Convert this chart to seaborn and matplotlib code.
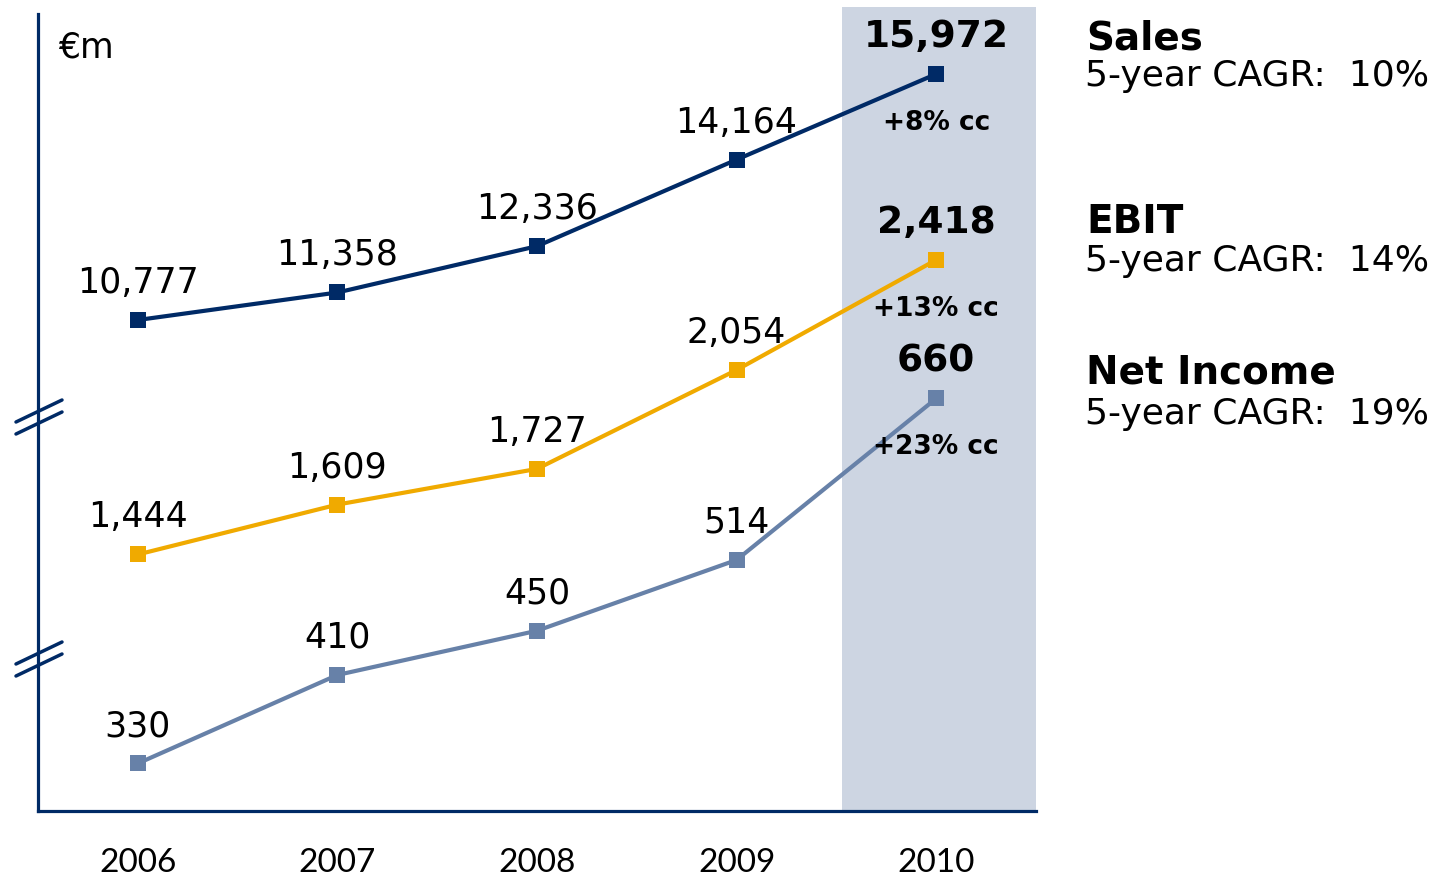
import numpy as np
import pandas as pd
import seaborn as sns
from matplotlib import pyplot as plt
from matplotlib.lines import Line2D

years = [2006, 2007, 2008, 2009, 2010]
sales = [10777, 11358, 12336, 14164, 15972]
ebit = [1444, 1609, 1727, 2054, 2418]
net_income = [330, 410, 450, 514, 660]

series_names = ["Sales", "EBIT", "Net Income"]
cagr = ["10%", "14%", "19%"]
growth_cc = ["+8% cc", "+13% cc", "+23% cc"]

NAVY = "#002A66"
GOLD = "#F0AA00"
SLATE = "#6781A8"
SHADE = "#CDD5E2"

W, H = 1451, 879

sns.set_style("white")
plt.rcParams['font.family'] = ['DejaVu Sans']
plt.rcParams['text.color'] = 'black'
plt.rcParams['xtick.color'] = 'black'

fig = plt.figure(figsize=(W / 100, H / 100), dpi=100)
rect = [38 / W, 1 - 812 / H, (1036 - 38) / W, (812 - 8) / H]

ax = fig.add_axes(rect)
ax_e = fig.add_axes(rect, sharex=ax)
ax_n = fig.add_axes(rect, sharex=ax)

# each series gets its own scale (broken axis)
limits = [(408, 17387), (596, 3254), (287, 1014)]
data = [sales, ebit, net_income]
colors = [NAVY, GOLD, SLATE]
axes = [ax, ax_e, ax_n]

ax.axvspan(2009.53, 2010.5, color=SHADE, lw=0, zorder=0)

for a, vals, col, lim, cc in zip(axes, data, colors, limits, growth_cc):
    df = pd.DataFrame({"year": years, "value": vals})
    sns.lineplot(data=df, x="year", y="value", ax=a, color=col, marker="s",
                 markersize=12, markeredgewidth=0, linewidth=3, clip_on=False)
    a.set_ylim(*lim)
    a.set_xlim(2005.5, 2010.5)
    a.patch.set_visible(False)
    for y, v in zip(years, vals):
        last = y == years[-1]
        a.annotate(f"{v:,}", (y, v), xytext=(0, 38), textcoords="offset pixels",
                   ha="center", va="center",
                   fontsize=27 if last else 25,
                   fontweight="bold" if last else "normal")
    a.annotate(cc, (years[-1], vals[-1]), xytext=(0, -48), textcoords="offset pixels",
               ha="center", va="center", fontsize=19, fontweight="bold")
    a.set_xlabel("")
    a.set_ylabel("")
    a.set_yticks([])

for a in [ax_e, ax_n]:
    for s in a.spines.values():
        s.set_visible(False)
    a.tick_params(axis="x", labelbottom=False, length=0)

for s in ["top", "right"]:
    ax.spines[s].set_visible(False)
for s in ["left", "bottom"]:
    ax.spines[s].set_color(NAVY)
    ax.spines[s].set_linewidth(2.3)
ax.spines["left"].set_bounds(408, 17239)

ax.set_xticks(years)
ax.set_xticklabels([str(y) for y in years], family="Lato", fontsize=24)
ax.tick_params(axis="x", length=0, pad=26)

# axis break marks
for yc in [418, 660]:
    for dy in [-6, 6]:
        fig.add_artist(Line2D([16 / W, 62 / W],
                              [1 - (yc + dy + 11) / H, 1 - (yc + dy - 11) / H],
                              color=NAVY, lw=2.5))

fig.text(58 / W, 1 - 47 / H, "€m", fontsize=25, va="center", ha="left")

legend_y = [(38, 76), (222, 261), (373, 414)]
for name, c, (y1, y2) in zip(series_names, cagr, legend_y):
    fig.text(1086 / W, 1 - y1 / H, name, fontsize=28, fontweight="bold", va="center")
    fig.text(1085 / W, 1 - y2 / H, f"5-year CAGR:  {c}", fontsize=26, va="center")

plt.savefig("out.png", dpi=100)
